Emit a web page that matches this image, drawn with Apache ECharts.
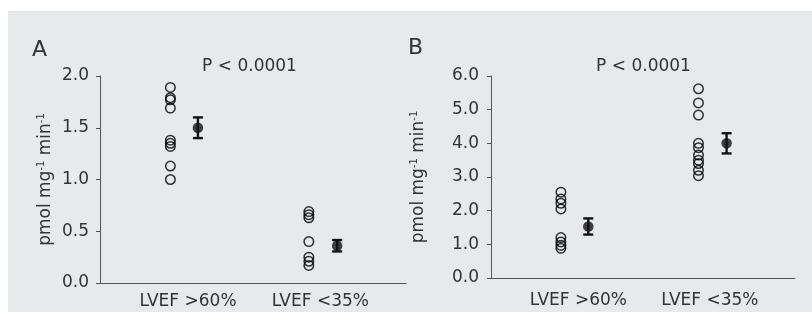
<!DOCTYPE html>
<html>
<head>
<meta charset="utf-8">
<script src="https://cdn.jsdelivr.net/npm/echarts@6/dist/echarts.min.js"></script>
<style>html,body{margin:0;padding:0;background:#fff}#c{width:812px;height:322px}</style>
</head>
<body>
<div id="c"></div>
<script>
// ---- data ----
const categories = ['LVEF >60%', 'LVEF <35%'];
const groupX = [0.92, 2.73];      // x position of the individual points per group
const meanX = [1.28, 3.10];       // x position of mean ± error per group
const labelX = [1.15, 2.88];      // x position of category labels

const panelA_high = [1.89, 1.79, 1.77, 1.69, 1.38, 1.35, 1.32, 1.13, 1.00];
const panelA_low = [0.69, 0.66, 0.63, 0.40, 0.25, 0.21, 0.17];
const panelA_mean = [1.50, 0.36];
const panelA_err = [0.10, 0.055];

const panelB_high = [2.55, 2.35, 2.22, 2.05, 1.20, 1.07, 0.97, 0.88];
const panelB_low = [5.62, 5.20, 4.84, 4.00, 3.87, 3.65, 3.50, 3.40, 3.20, 3.04];
const panelB_mean = [1.53, 4.00];
const panelB_err = [0.24, 0.30];

const panelA_yTicks = [0, 0.5, 1.0, 1.5, 2.0];
const panelB_yTicks = [0, 1, 2, 3, 4, 5, 6];
const panelLetters = ['A', 'B'];
const pText = 'P < 0.0001';
const yName = 'pmol mg{s|-1} min{s|-1}';

// ---- chart ----
const FONT = 'DejaVu Sans';
const TXT = '#333';
const AX = '#555';

function points(vals, x) { return vals.map(v => [x, v]); }

function yAxis(idx, ticks, margin, gap) {
  return {
    type: 'value', gridIndex: idx,
    min: ticks[0], max: ticks[ticks.length - 1], interval: ticks[1] - ticks[0],
    axisLine: { show: true, lineStyle: { color: AX, width: 1 } },
    axisTick: { show: true, length: 4, lineStyle: { color: AX } },
    splitLine: { show: false },
    axisLabel: { margin: margin, color: TXT, fontFamily: FONT, fontSize: 17,
      formatter: v => v.toFixed(1) },
    name: yName, nameLocation: 'middle', nameRotate: 90, nameGap: gap,
    nameTextStyle: { color: TXT, fontFamily: FONT, fontSize: 17, lineHeight: 20,
      rich: { s: { fontSize: 10, fontFamily: FONT, color: TXT, verticalAlign: 'top', lineHeight: 20 } } }
  };
}

function xAxis(idx, margin) {
  return {
    type: 'value', gridIndex: idx, min: 0, max: 4,
    axisLine: { show: true, onZero: false, lineStyle: { color: AX, width: 1 } },
    axisTick: { show: false },
    splitLine: { show: false },
    axisLabel: { customValues: labelX, margin: margin, color: TXT, fontFamily: FONT, fontSize: 17,
      formatter: (v, i) => categories[labelX.indexOf(v)] }
  };
}

function errSeries(idx, means, errs) {
  return {
    type: 'custom', xAxisIndex: idx, yAxisIndex: idx,
    data: means.map((m, i) => [meanX[i], m, errs[i]]),
    renderItem: function (params, api) {
      const x = api.value(0), m = api.value(1), e = api.value(2);
      const top = api.coord([x, m + e]);
      const bot = api.coord([x, m - e]);
      const hw = 5;
      const st = { stroke: '#111', lineWidth: 2.4 };
      return { type: 'group', children: [
        { type: 'line', shape: { x1: top[0], y1: top[1], x2: bot[0], y2: bot[1] }, style: st },
        { type: 'line', shape: { x1: top[0] - hw, y1: top[1], x2: top[0] + hw, y2: top[1] }, style: st },
        { type: 'line', shape: { x1: bot[0] - hw, y1: bot[1], x2: bot[0] + hw, y2: bot[1] }, style: st }
      ]};
    },
    z: 3
  };
}

function openSeries(idx, vals, x) {
  return {
    type: 'scatter', xAxisIndex: idx, yAxisIndex: idx,
    data: points(vals, x), symbol: 'circle', symbolSize: 9.5,
    itemStyle: { color: 'rgba(0,0,0,0)', borderColor: '#000', borderWidth: 1.5 },
    emphasis: { disabled: true }, z: 4
  };
}

function meanSeries(idx, means) {
  return {
    type: 'scatter', xAxisIndex: idx, yAxisIndex: idx,
    data: means.map((m, i) => [meanX[i], m]), symbol: 'circle', symbolSize: 10.5,
    itemStyle: { color: '#111' }, emphasis: { disabled: true }, z: 5
  };
}

const chart = echarts.init(document.getElementById('c'), null, { renderer: 'canvas' });
chart.setOption({
  backgroundColor: '#ffffff',
  animation: false,
  graphic: [
    { type: 'rect', left: 8, top: 11, shape: { width: 804, height: 301 }, style: { fill: '#e8e9eb' }, z: -10, silent: true },
    { type: 'text', x: 32, y: 50, style: { text: panelLetters[0], font: '22px "DejaVu Sans"', fill: TXT, textVerticalAlign: 'middle' } },
    { type: 'text', x: 408, y: 48, style: { text: panelLetters[1], font: '22px "DejaVu Sans"', fill: TXT, textVerticalAlign: 'middle' } },
    { type: 'text', x: 249.5, y: 67, style: { text: pText, font: '17px "DejaVu Sans"', fill: TXT, textAlign: 'center', textVerticalAlign: 'middle' } },
    { type: 'text', x: 643.5, y: 67, style: { text: pText, font: '17px "DejaVu Sans"', fill: TXT, textAlign: 'center', textVerticalAlign: 'middle' } }
  ],
  grid: [
    { left: 100, top: 76, width: 306, height: 207 },
    { left: 491, top: 76, width: 304, height: 202 }
  ],
  xAxis: [xAxis(0, 10), xAxis(1, 14)],
  yAxis: [yAxis(0, panelA_yTicks, 11, 44), yAxis(1, panelB_yTicks, 12, 62)],
  series: [
    openSeries(0, panelA_high, groupX[0]),
    openSeries(0, panelA_low, groupX[1]),
    errSeries(0, panelA_mean, panelA_err),
    meanSeries(0, panelA_mean),
    openSeries(1, panelB_high, groupX[0]),
    openSeries(1, panelB_low, groupX[1]),
    errSeries(1, panelB_mean, panelB_err),
    meanSeries(1, panelB_mean)
  ]
});
</script>
</body>
</html>
